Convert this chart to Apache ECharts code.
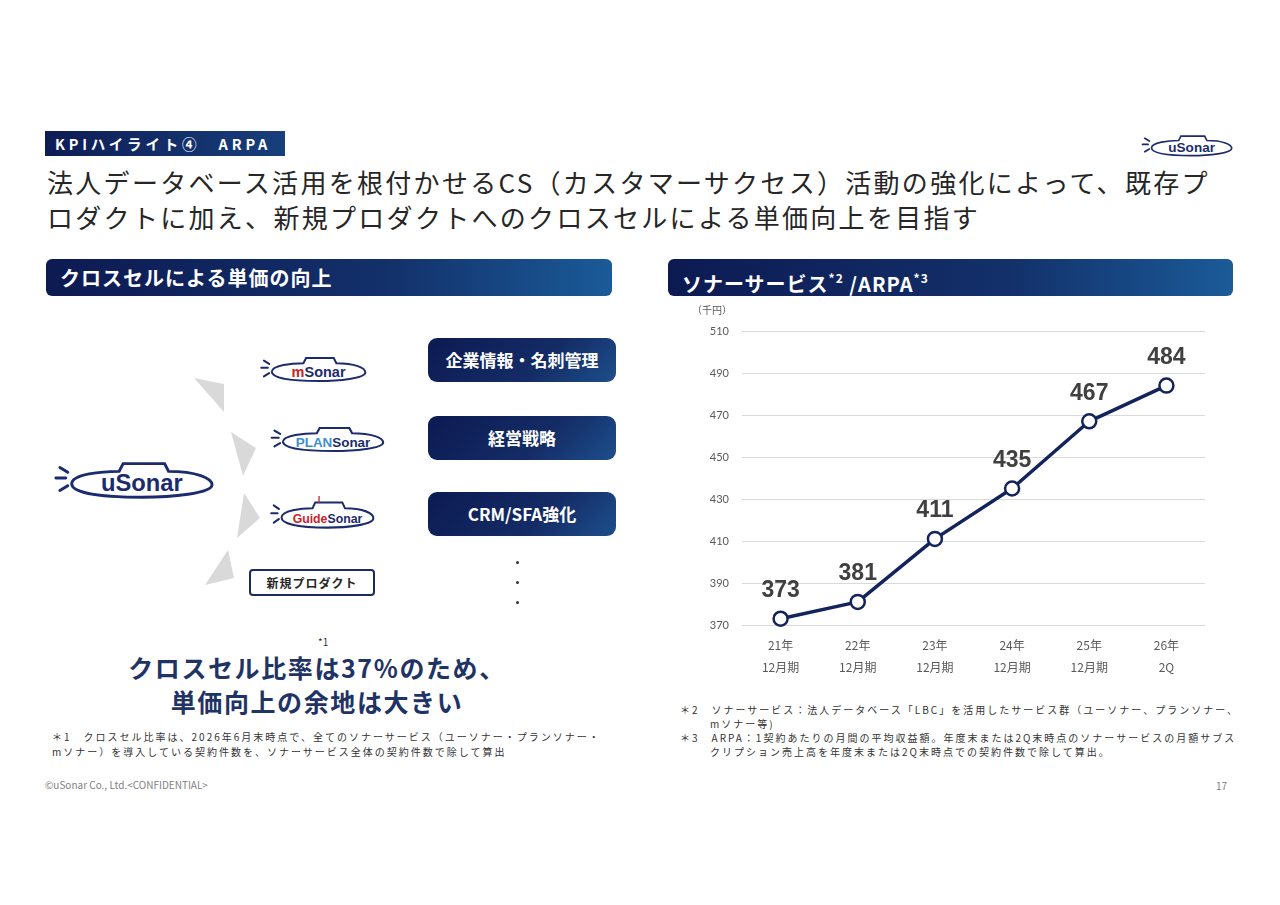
<!DOCTYPE html>
<html>
<head>
<meta charset="utf-8">
<script src="https://cdn.jsdelivr.net/npm/echarts@6/dist/echarts.min.js"></script>
<style>
  html, body { margin: 0; padding: 0; background: #fff; }
  body { width: 1280px; height: 905px; position: relative; overflow: hidden;
         font-family: "Noto Sans CJK JP", "Noto Sans", sans-serif; color: #262626; }
  .abs { position: absolute; }
  .kpi { left: 45px; top: 131px; width: 240px; height: 25px; background: linear-gradient(90deg, #0e1c55, #173f7c);
         color: #fff; font-weight: bold; font-size: 14.5px; line-height: 25px; padding-left: 10px; box-sizing: border-box; letter-spacing: 3.8px; white-space: nowrap; }
  .title { left: 47px; top: 164px; font-size: 26px; line-height: 35px; letter-spacing: 2.3px; color: #262626; white-space: nowrap; }
  .bar { height: 37px; top: 259px; border-radius: 6px; background: linear-gradient(90deg, #0d1a52 0%, #13306a 60%, #1a5b98 100%);
         color: #fff; font-weight: bold; font-size: 20px; line-height: 37px; padding-left: 14px; box-sizing: border-box; letter-spacing: 1px; }
  .bar sup { font-size: 12px; vertical-align: 9px; }
  .btn { left: 428px; width: 188px; height: 44px; border-radius: 9px; background: linear-gradient(135deg, #0d1a52 0%, #142c66 60%, #1d4f8c 100%);
         color: #fff; font-weight: bold; font-size: 17px; line-height: 44px; text-align: center; }
  .tri { background: #d9d9d9; left: 0; top: 0; width: 300px; height: 600px; }
  .newp { left: 249px; top: 569px; width: 126px; height: 27px; border: 2px solid #1b2b5e; border-radius: 4px; box-sizing: border-box;
          font-size: 12px; font-weight: bold; line-height: 23px; text-align: center; color: #262626; letter-spacing: 1px; }
  .dot { width: 3px; height: 3px; background: #333; border-radius: 50%; left: 516px; }
  .big { left: 22px; width: 590px; text-align: center; font-size: 25px; font-weight: bold; color: #1f3364; line-height: 36px; height: 36px; letter-spacing: 1.6px; white-space: nowrap; }
  .note { font-size: 10px; line-height: 14.5px; letter-spacing: 2px; color: #333; white-space: nowrap; }
  .foot { font-size: 10px; color: #7f7f7f; }
  #chart { left: 668px; top: 300px; width: 570px; height: 385px; }
</style>
</head>
<body>
<div class="abs kpi">KPIハイライト④　ARPA</div>
<div class="abs title">法人データベース活用を根付かせるCS（カスタマーサクセス）活動の強化によって、既存プ<br>ロダクトに加え、新規プロダクトへのクロスセルによる単価向上を目指す</div>

<div class="abs bar" style="left:46px;width:566px;">クロスセルによる単価の向上</div>
<div class="abs bar" style="left:668px;width:565px;">ソナーサービス<sup>*2</sup> /ARPA<sup>*3</sup></div>

<div id="logo-top" class="abs" style="left:1138px;top:131px;width:96px;height:28px;"></div>
<div id="logo-u" class="abs" style="left:48px;top:455px;width:168px;height:48px;"></div>
<div id="logo-m" class="abs" style="left:256px;top:352px;width:112px;height:33px;"></div>
<div id="logo-p" class="abs" style="left:266px;top:422px;width:120px;height:33px;"></div>
<div id="logo-g" class="abs" style="left:266px;top:496px;width:110px;height:36px;"></div>

<div class="abs tri" style="clip-path:polygon(194px 378px,224px 384px,224px 412px);"></div>
<div class="abs tri" style="clip-path:polygon(231px 432px,256px 448px,243px 476px);"></div>
<div class="abs tri" style="clip-path:polygon(244px 493px,260px 518px,237px 538px);"></div>
<div class="abs tri" style="clip-path:polygon(228px 550px,234px 578px,205px 585px);"></div>

<div class="abs btn" style="top:338px;">企業情報・名刺管理</div>
<div class="abs btn" style="top:416px;">経営戦略</div>
<div class="abs btn" style="top:492px;">CRM/SFA強化</div>
<div class="abs newp">新規プロダクト</div>
<div class="abs dot" style="top:561px;"></div>
<div class="abs dot" style="top:581px;"></div>
<div class="abs dot" style="top:601px;"></div>

<div class="abs" style="left:318px;top:637px;font-size:10px;line-height:10px;color:#333;">*1</div>
<div class="abs big" style="top:649px;">クロスセル比率は37%のため、</div>
<div class="abs big" style="top:683px;">単価向上の余地は大きい</div>
<div class="abs note" style="left:52px;top:730px;">＊1　クロスセル比率は、2026年6月末時点で、全てのソナーサービス（ユーソナー・プランソナー・<br>mソナー）を導入している契約件数を、ソナーサービス全体の契約件数で除して算出</div>

<div class="abs note" style="left:680px;top:703px;">＊2　ソナーサービス：法人データベース「LBC」を活用したサービス群（ユーソナー、プランソナー、</div>
<div class="abs note" style="left:710px;top:717px;">mソナー等)</div>
<div class="abs note" style="left:680px;top:731px;">＊3　ARPA：1契約あたりの月間の平均収益額。年度末または2Q末時点のソナーサービスの月額サブス</div>
<div class="abs note" style="left:710px;top:745px;">クリプション売上高を年度末または2Q末時点での契約件数で除して算出。</div>

<div class="abs foot" style="left:45px;top:777px;">©uSonar Co., Ltd.&lt;CONFIDENTIAL&gt;</div>
<div class="abs foot" style="left:1216px;top:778px;">17</div>

<div id="chart" class="abs"></div>

<script>
// ARPA data (千円)
var periods = ["21年\n12月期", "22年\n12月期", "23年\n12月期", "24年\n12月期", "25年\n12月期", "26年\n2Q"];
var arpa = [373, 381, 411, 435, 467, 484];
var yTicks = { min: 370, max: 510, step: 20 };

// simple submarine logos; one text line with coloured spans
function sub(el, w, h, parts, size, tower) {
  var box = document.getElementById(el);
  var txt = parts.map(function (p) {
    return '<tspan fill="' + p[1] + '">' + p[0] + '</tspan>';
  }).join('');
  box.innerHTML =
    '<svg width="' + w + '" height="' + h + '" viewBox="0 0 170 50" preserveAspectRatio="none">' +
    '<g stroke="#1b2b6e" stroke-width="3" stroke-linecap="round" fill="none">' +
    '<line x1="8" y1="24" x2="18" y2="24"/><line x1="12" y1="13" x2="20" y2="18"/><line x1="12" y1="37" x2="20" y2="32"/>' +
    '<path d="M24,30 C24,20 55,17 72,17 L76,9 L118,9 L122,17 C150,17 166,24 166,31 C166,40 125,44 95,44 C55,44 24,40 24,30 Z" fill="#fff"/>' +
    (tower ? '<line x1="82" y1="0" x2="82" y2="9" stroke="#d0202a" stroke-width="2"/>' : '') +
    '</g><text x="95" y="38" text-anchor="middle" font-family="Liberation Sans, sans-serif" font-weight="bold" font-size="' + size + '">' +
    txt + '</text></svg>';
}
sub('logo-top', 96, 28, [['uSonar', '#1b2b6e']], 24);
sub('logo-u', 168, 48, [['uSonar', '#1b2b6e']], 24);
sub('logo-m', 112, 33, [['m', '#d0202a'], ['Sonar', '#1b2b6e']], 22);
sub('logo-p', 120, 33, [['PLAN', '#3a8fd0'], ['Sonar', '#1b2b6e']], 19);
sub('logo-g', 110, 36, [['Guide', '#d0202a'], ['Sonar', '#1b2b6e']], 19, true);

var chart = echarts.init(document.getElementById('chart'));
var option = {
  animation: false,
  grid: {
    left: 74,
    top: 31,
    width: 463,
    height: 294,
  },
  xAxis: {
    type: "category",
    data: periods,
    boundaryGap: true,
    axisLine: { show: false },
    axisTick: { show: false },
    axisLabel: {
      color: "#595959",
      fontSize: 12,
      lineHeight: 22,
      margin: 9,
      fontFamily: "Noto Sans CJK JP",
    },
  },
  yAxis: {
    type: "value",
    min: yTicks.min,
    max: yTicks.max,
    interval: yTicks.step,
    name: "（千円）",
    nameLocation: "end",
    nameGap: 16,
    nameTextStyle: {
      color: "#595959",
      fontSize: 10,
      align: "right",
      padding: [0, 10, 0, 0],
      fontFamily: "Noto Sans CJK JP",
    },
    axisLine: { show: false },
    axisTick: { show: false },
    axisLabel: {
      color: "#595959",
      fontSize: 11,
      margin: 13,
      fontFamily: "Lato",
    },
    splitLine: {
      lineStyle: { color: "#d9d9d9", width: 1 },
    },
  },
  series: [
    {
      name: "ARPA",
      type: "line",
      data: arpa,
      symbol: "circle",
      symbolSize: 14,
      lineStyle: { color: "#13235b", width: 3.5 },
      itemStyle: { color: "#fff", borderColor: "#13235b", borderWidth: 2.5 },
      label: {
        show: true,
        position: "top",
        distance: 8,
        color: "#404040",
        fontSize: 23,
        fontWeight: "bold",
        fontFamily: "Liberation Sans",
      },
    },
  ],
};
chart.setOption(option);
</script>
</body>
</html>
